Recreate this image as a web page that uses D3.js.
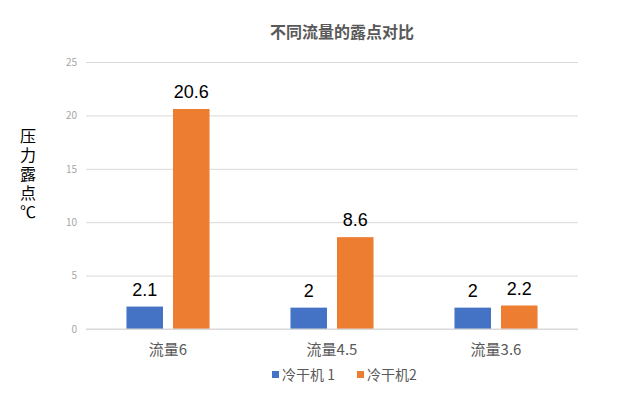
<!DOCTYPE html>
<html>
<head>
<meta charset="utf-8">
<script src="https://cdn.jsdelivr.net/npm/d3@7"></script>
<style>
  body { margin: 0; background: #fff; }
  text { font-family: "Noto Sans CJK SC", "Liberation Sans", sans-serif; }
</style>
</head>
<body>
<svg width="640" height="398"></svg>
<script>
const width = 640;
const height = 398;

const categories = ["流量6", "流量4.5", "流量3.6"];
const seriesNames = ["冷干机 1", "冷干机2"];
const dryer1 = [2.1, 2, 2];
const dryer2 = [20.6, 8.6, 2.2];
const yTicks = [0, 5, 10, 15, 20, 25];
const colors = ["#4472C4", "#ED7D31"];

const margin = { top: 62, right: 62, bottom: 69, left: 86 };

const svg = d3.select("svg");

const x = d3.scaleBand()
  .domain(categories)
  .range([margin.left, width - margin.right]);

const x1 = d3.scaleBand()
  .domain([0, 1])
  .range([0, x.bandwidth()])
  .paddingInner(0.215)
  .paddingOuter(0.87);

const y = d3.scaleLinear()
  .domain([0, 25])
  .range([height - margin.bottom, margin.top]);

// gridlines + tick labels
const yAxis = svg.append("g")
  .attr("transform", `translate(${margin.left},0)`)
  .call(d3.axisLeft(y)
    .tickValues(yTicks)
    .tickSize(-(width - margin.left - margin.right))
    .tickPadding(9)
  );
yAxis.select(".domain").remove();
yAxis.selectAll(".tick line").attr("stroke", "#d9d9d9");
yAxis.selectAll(".tick text")
  .attr("fill", "#a6a6a6")
  .style("font-size", "10px");

// bars
const series = [dryer1, dryer2];
const groups = svg.append("g")
  .selectAll("g")
  .data(categories)
  .join("g")
  .attr("transform", d => `translate(${x(d)},0)`);

groups.selectAll("rect")
  .data((d, i) => series.map((s, k) => ({ k, v: s[i] })))
  .join("rect")
  .attr("x", d => x1(d.k))
  .attr("width", x1.bandwidth())
  .attr("y", d => y(d.v))
  .attr("height", d => y(0) - y(d.v))
  .attr("fill", d => colors[d.k]);

groups.selectAll("text.val")
  .data((d, i) => series.map((s, k) => ({ k, v: s[i] })))
  .join("text")
  .attr("class", "val")
  .attr("x", d => x1(d.k) + x1.bandwidth() / 2)
  .attr("y", d => y(d.v) - 11)
  .attr("text-anchor", "middle")
  .attr("fill", "#000")
  .style("font-family", "'Liberation Sans', sans-serif")
  .style("font-size", "18px")
  .text(d => d.v);

// baseline
svg.append("line")
  .attr("x1", margin.left)
  .attr("x2", width - margin.right)
  .attr("y1", y(0))
  .attr("y2", y(0))
  .attr("stroke", "#d9d9d9");

// category labels
svg.append("g")
  .selectAll("text")
  .data(categories)
  .join("text")
  .attr("x", d => x(d) + x.bandwidth() / 2)
  .attr("y", 355)
  .attr("text-anchor", "middle")
  .attr("fill", "#595959")
  .style("font-size", "15px")
  .text(d => d);

// title
svg.append("text")
  .attr("x", 342)
  .attr("y", 38)
  .attr("text-anchor", "middle")
  .attr("fill", "#595959")
  .style("font-size", "16px")
  .style("font-weight", "bold")
  .text("不同流量的露点对比");

// y label, written vertically
svg.append("text")
  .attr("x", 28)
  .attr("y", 128)
  .attr("fill", "#000")
  .style("font-size", "16px")
  .style("writing-mode", "vertical-rl")
  .style("letter-spacing", "3px")
  .text("压力露点℃");

// legend
const legend = svg.append("g")
  .selectAll("g")
  .data(seriesNames)
  .join("g")
  .attr("transform", (d, i) => `translate(${i === 0 ? 272 : 357},0)`);
legend.append("rect")
  .attr("y", 371)
  .attr("width", 7)
  .attr("height", 7)
  .attr("fill", (d, i) => colors[i]);
legend.append("text")
  .attr("x", 10)
  .attr("y", 380)
  .attr("fill", "#595959")
  .style("font-size", "14px")
  .text(d => d);
</script>
</body>
</html>
